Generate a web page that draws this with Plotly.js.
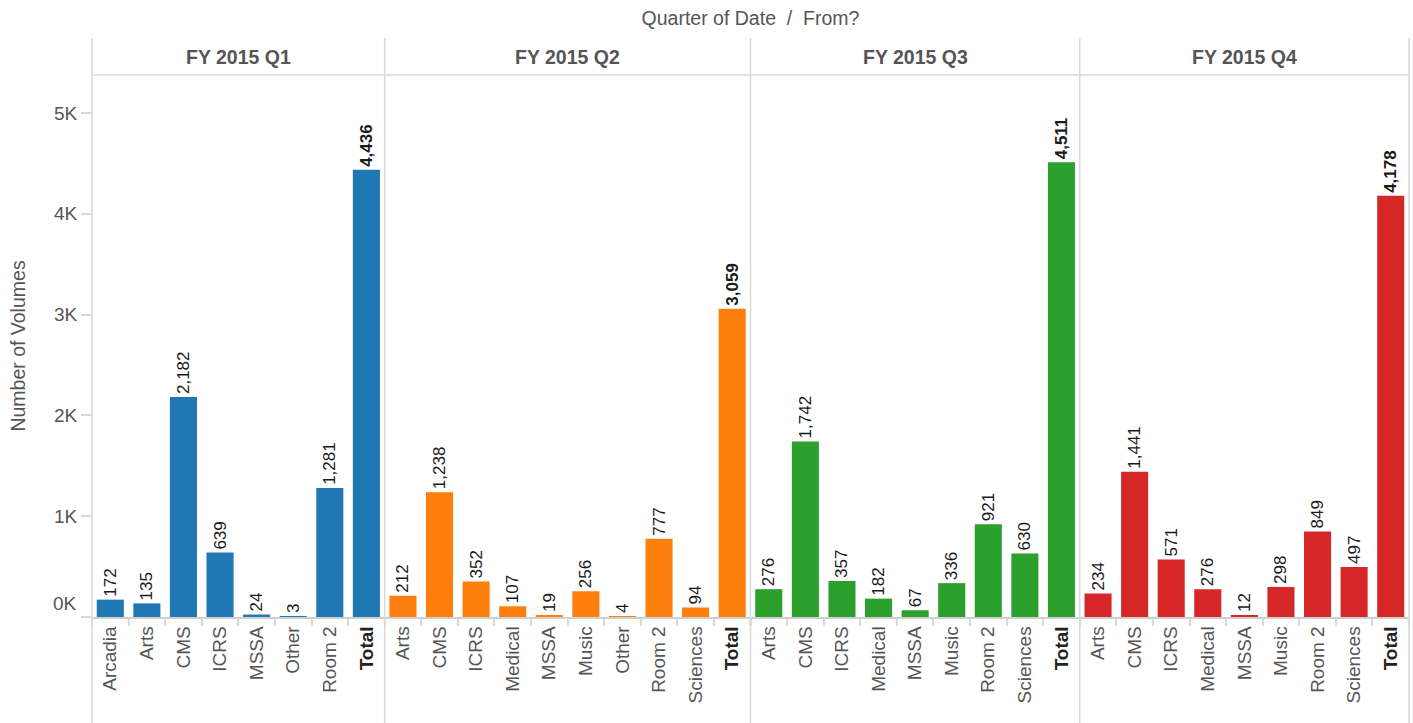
<!DOCTYPE html>
<html><head><meta charset="utf-8">
<script src="https://cdn.plot.ly/plotly-3.0.1.min.js"></script>
<style>html,body{margin:0;padding:0;background:#fff}#chart{width:1413px;height:723px}</style>
</head><body><div id="chart"></div>
<script>
const quarters = ['FY 2015 Q1','FY 2015 Q2','FY 2015 Q3','FY 2015 Q4'];
const q1Categories = ['Arcadia','Arts','CMS','ICRS','MSSA','Other','Room 2','Total'];
const q1Values = [172,135,2182,639,24,3,1281,4436];
const q2Categories = ['Arts','CMS','ICRS','Medical','MSSA','Music','Other','Room 2','Sciences','Total'];
const q2Values = [212,1238,352,107,19,256,4,777,94,3059];
const q3Categories = ['Arts','CMS','ICRS','Medical','MSSA','Music','Room 2','Sciences','Total'];
const q3Values = [276,1742,357,182,67,336,921,630,4511];
const q4Categories = ['Arts','CMS','ICRS','Medical','MSSA','Music','Room 2','Sciences','Total'];
const q4Values = [234,1441,571,276,12,298,849,497,4178];
const yTickValues = [0,1000,2000,3000,4000,5000];
const yTickLabels = ['0K','1K','2K','3K','4K','5K'];
const quarterColors = ['#1f77b4','#ff7f0e','#2ca02c','#d62728'];

const panels = [
  {cats:q1Categories, vals:q1Values},
  {cats:q2Categories, vals:q2Values},
  {cats:q3Categories, vals:q3Values},
  {cats:q4Categories, vals:q4Values}
];
const FONT = 'Liberation Sans, Arial, sans-serif';
const GRID = '#d9d9d9';
const total = panels.reduce((s,p)=>s+p.cats.length,0);
const plotH = 723-75-106;

const traces = [];
const layout = {
  width:1413, height:723,
  margin:{l:92, r:4, t:75, b:106, pad:0},
  paper_bgcolor:'#fff', plot_bgcolor:'#fff',
  showlegend:false,
  bargap:0.26,
  font:{family:FONT, color:'#555'},
  title:{text:'Quarter of Date  /  From?', x:0.5, xref:'paper', y:1-18/723, yref:'container', yanchor:'middle', xanchor:'center', font:{size:19.5, color:'#555', family:FONT}},
  yaxis:{range:[0,5377], tickmode:'array', tickvals:yTickValues,
    ticktext:yTickLabels.map((t,i)=>i===0?'':t),
    ticks:'outside', ticklen:10, tickcolor:GRID, tickwidth:1.5,
    showgrid:false, zeroline:false, showline:false,
    tickfont:{size:19, color:'#555', family:FONT},
    title:{text:'Number of Volumes', standoff:23, font:{size:19.5, color:'#555', family:FONT}},
    anchor:'x', fixedrange:true},
  shapes:[], annotations:[]
};

let start = 0;
panels.forEach((p,i)=>{
  const ax = i===0 ? 'x' : 'x'+(i+1);
  const axKey = i===0 ? 'xaxis' : 'xaxis'+(i+1);
  const d0 = start/total, d1 = (start+p.cats.length)/total;
  traces.push({
    type:'bar', x:p.cats, y:p.vals, xaxis:ax, yaxis:'y',
    marker:{color:quarterColors[i], line:{width:0}},
    text:p.vals.map((v,k)=>{const s=v.toLocaleString('en-US'); return p.cats[k]==='Total'?'<b>'+s+'</b>':s;}),
    textposition:'outside', textangle:-90, constraintext:'none', cliponaxis:false,
    textfont:{size:17, color:'#1a1a1a', family:FONT},
    hoverinfo:'x+y'
  });
  layout[axKey] = {
    domain:[d0,d1], anchor:'y', type:'category',
    tickmode:'array', tickvals:p.cats,
    ticktext:p.cats.map(c=>c==='Total'?'<span style="color:#222"><b>Total</b></span>':c),
    tickangle:-90, ticks:'outside', tickson:'boundaries', ticklen:7, tickcolor:GRID, tickwidth:1.5,
    showline:true, linecolor:'#cfcfcf', linewidth:1.5,
    showgrid:false, zeroline:false,
    tickfont:{size:19, color:'#555', family:FONT}, fixedrange:true
  };
  layout.annotations.push({
    text:'<b>'+quarters[i]+'</b>', xref:'paper', yref:'paper',
    x:(d0+d1)/2, y:1+18/plotH, xanchor:'center', yanchor:'middle', showarrow:false,
    font:{size:19.5, color:'#555', family:FONT}
  });
  start += p.cats.length;
});

// panel frame lines
for (let k=0;k<=panels.length;k++){
  let c=0; for (let j=0;j<k;j++) c+=panels[j].cats.length;
  layout.shapes.push({type:'line', xref:'paper', yref:'paper', x0:c/total, x1:c/total,
    y0:-106/plotH, y1:1+37/plotH, line:{color:GRID, width:1.5}});
}
layout.shapes.push({type:'line', xref:'paper', yref:'paper', x0:0, x1:1, y0:1, y1:1, line:{color:GRID, width:1.5}});

// zero label, drawn slightly above its tick as in the reference
layout.annotations.push({text:yTickLabels[0], xref:'paper', yref:'y', x:0, y:yTickValues[0],
  xanchor:'right', yanchor:'middle', xshift:-13, yshift:14, showarrow:false,
  font:{size:19, color:'#555', family:FONT}});

Plotly.newPlot('chart', traces, layout, {displayModeBar:false, responsive:false});
</script></body></html>
